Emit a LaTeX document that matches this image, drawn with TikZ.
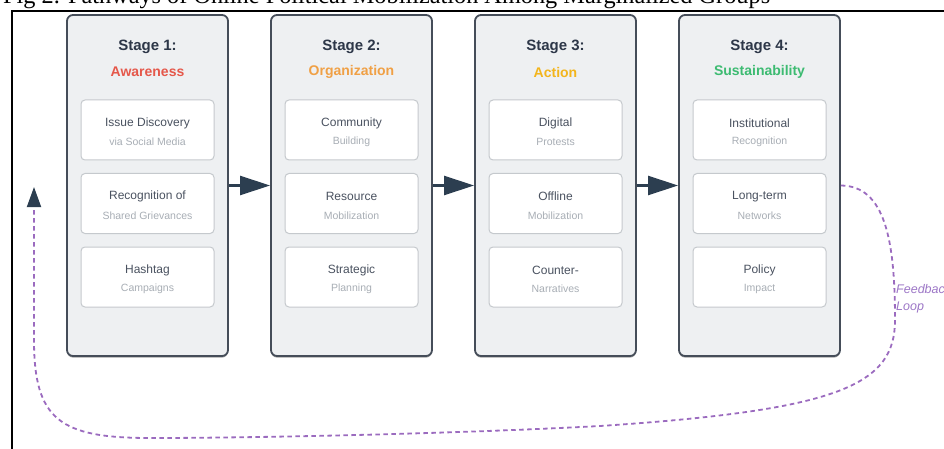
\documentclass[tikz,border=0pt]{standalone}
\usepackage{fontspec}
\setmainfont{Liberation Serif}
\setsansfont{Liberation Sans}
\usetikzlibrary{arrows.meta,shadows}

\definecolor{stagefill}{HTML}{EEF0F2}
\definecolor{stageedge}{HTML}{454D59}
\definecolor{cardedge}{HTML}{C5C9CD}
\definecolor{headtext}{HTML}{2D3748}
\definecolor{cardtext}{HTML}{4A5260}
\definecolor{cardsub}{HTML}{A8AEB5}
\definecolor{navy}{HTML}{2C3E50}
\definecolor{loopline}{HTML}{9B6BBF}
\definecolor{looptext}{HTML}{9C76C6}
\definecolor{cAware}{HTML}{E5584B}
\definecolor{cOrg}{HTML}{F0A045}
\definecolor{cAct}{HTML}{F3B51C}
\definecolor{cSust}{HTML}{3DBB72}

\begin{document}
\begin{tikzpicture}[x=1pt,y=-1pt,
  stagebox/.style={draw=stageedge, line width=1.8pt, fill=stagefill,
    rounded corners=6pt, minimum width=161pt, minimum height=341pt,
    inner sep=0pt,
    drop shadow={shadow xshift=0pt, shadow yshift=-1.6pt,
      fill=black!60, opacity=.6}},
  card/.style={draw=cardedge, line width=1pt, fill=white,
    rounded corners=4pt, minimum width=133pt, minimum height=60pt,
    inner sep=0pt},
  stagehead/.style={font=\sffamily\bfseries\fontsize{15}{18}\selectfont,
    text=headtext},
  stagename/.style={font=\sffamily\bfseries\fontsize{14}{17}\selectfont},
  cardhead/.style={font=\sffamily\fontsize{12}{14}\selectfont, text=cardtext},
  cardsubtext/.style={font=\sffamily\fontsize{10.5}{12}\selectfont, text=cardsub},
  flow/.style={draw=navy, line width=2.2pt,
    -{Triangle[length=30pt,width=19pt]}},
  feedback/.style={draw=loopline, line width=1.8pt,
    dash pattern=on 4.5pt off 3.5pt,
    -{Triangle[length=20pt,width=14pt,color=navy,fill=navy]}}
]
\useasboundingbox (0,0) rectangle (944,449);
\clip (0,0) rectangle (944,449);

% caption and frame
\node[anchor=base west, inner sep=0pt,
  font=\fontsize{24.3}{28}\selectfont] (caption) at (3,3.5)
  {Fig 2. Pathways of Online Political Mobilization Among Marginalized Groups};
\draw[line width=1.4pt] (12,449) -- (12,11) -- (944,11);

% stages
\foreach \i/\cx/\head/\name/\col in {
  1/147.5/Stage 1:/Awareness/cAware,
  2/351.5/Stage 2:/Organization/cOrg,
  3/555.5/Stage 3:/Action/cAct,
  4/759.5/Stage 4:/Sustainability/cSust}{
  \node[stagebox] (s\i) at (\cx,185.5) {};
  \node[stagehead] (s\i head) at (\cx,47) {\head};
  \node[stagename, text=\col] (s\i name) at (\cx,72) {\name};
}

% cards: stage / row / title / subtitle
\foreach \s/\r/\ta/\tb in {
  1/1/Issue Discovery/via Social Media,
  1/2/Recognition of/Shared Grievances,
  1/3/Hashtag/Campaigns,
  2/1/Community/Building,
  2/2/Resource/Mobilization,
  2/3/Strategic/Planning,
  3/1/Digital/Protests,
  3/2/Offline/Mobilization,
  3/3/Counter-/Narratives,
  4/1/Institutional/Recognition,
  4/2/Long-term/Networks,
  4/3/Policy/Impact}{
  \pgfmathsetmacro{\cx}{147.5+204*(\s-1)}
  \pgfmathsetmacro{\cy}{130+73.5*(\r-1)}
  \node[card] (c\s\r) at (\cx,\cy) {};
  \node[cardhead] (c\s\r a) at ([yshift=7pt]c\s\r.center) {\ta};
  \node[cardsubtext] (c\s\r b) at ([yshift=-12pt]c\s\r.center) {\tb};
}

% stage-to-stage arrows
\draw[flow] (s1.east) -- (s2.west);
\draw[flow] (s2.east) -- (s3.west);
\draw[flow] (s3.east) -- (s4.west);

% feedback loop back to the first stage
\coordinate (fbtip) at (34,187);
\draw[feedback] (s4.east)
  .. controls (885,186) and (895,240) .. (895,320)
  .. controls (895,385) and (840,410) .. (600,426)
  .. controls (450,434) and (250,438) .. (150,438)
  .. controls (60,438) and (34,420) .. (34,340)
  -- (fbtip);
\node[anchor=west, align=left, inner sep=0pt, text=looptext,
  font=\sffamily\itshape\fontsize{12.5}{17}\selectfont] (fblabel)
  at (896,299) {Feedback\\Loop};
\end{tikzpicture}
\end{document}
